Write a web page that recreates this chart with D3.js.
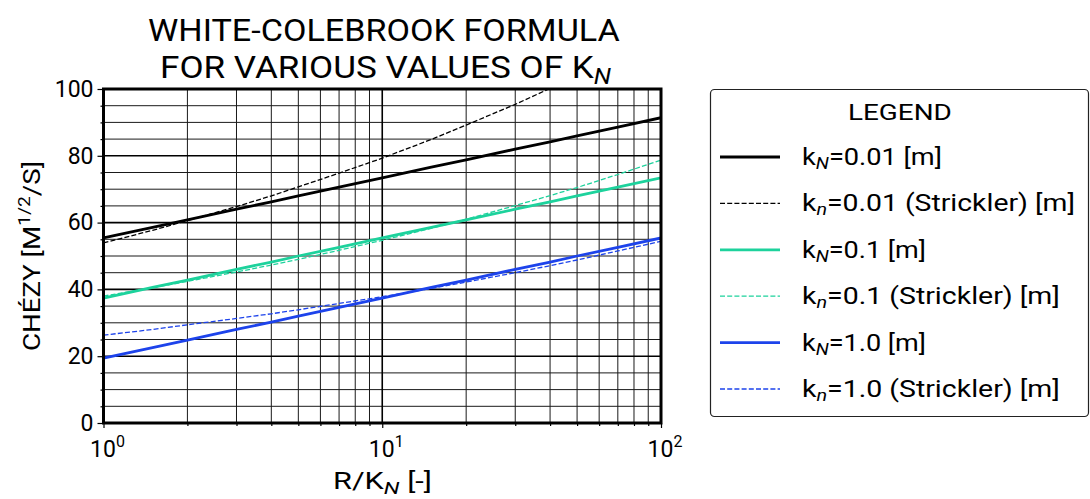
<!DOCTYPE html>
<html>
<head>
<meta charset="utf-8">
<script src="https://cdn.jsdelivr.net/npm/d3@7"></script>
<style>
  body { margin: 0; background: #fff; }
  svg { font-family: Roboto, "DejaVu Sans", sans-serif; }
</style>
</head>
<body>
<div id="chart"></div>
<script>
// R/kN sample points
const ratios = [1, 1.5, 2, 3, 4, 5, 7, 10, 15, 20, 30, 40, 50, 70, 100]

// White-Colebrook (solid) and Strickler (dashed) Chezy values
const wcK001 = [55.4, 58.6, 60.8, 64.0, 66.2, 68.0, 70.6, 73.4, 76.6, 78.8, 82.0, 84.2, 86.0, 88.6, 91.4]
const stK001 = [53.9, 57.7, 60.6, 64.8, 68.0, 70.7, 74.8, 79.3, 84.9, 89.2, 95.4, 100.2, 104.0, 110.0, 117.0]
const wcK01 = [37.4, 40.6, 42.8, 46.0, 48.2, 50.0, 52.6, 55.4, 58.6, 60.8, 64.0, 66.2, 68.0, 70.6, 73.4]
const stK01 = [38.0, 40.5, 42.4, 45.2, 47.3, 49.0, 51.7, 54.7, 58.3, 61.0, 65.1, 68.1, 70.5, 74.4, 78.7]
const wcK1 = [19.4, 22.6, 24.8, 28.0, 30.2, 32.0, 34.6, 37.4, 40.6, 42.8, 46.0, 48.2, 50.0, 52.6, 55.4]
const stK1 = [26.3, 28.0, 29.4, 31.3, 32.7, 33.9, 35.8, 37.8, 40.3, 42.2, 45.0, 47.1, 48.8, 51.5, 54.4]

const yMajor = [0, 20, 40, 60, 80, 100]
const yMinor = [5, 10, 15, 25, 30, 35, 45, 50, 55, 65, 70, 75, 85, 90, 95]
const xMajor = [1, 10, 100]
const xMinor = [2, 3, 4, 5, 6, 7, 8, 9, 20, 30, 40, 50, 60, 70, 80, 90]
const xTickExp = ["0", "1", "2"]

const series = [
  { values: wcK001, color: "#000000", dashed: false, sub: "N", rest: "=0.01 [m]", w: 140 },
  { values: stK001, color: "#000000", dashed: true, sub: "n", rest: "=0.01 (Strickler) [m]", w: 273 },
  { values: wcK01, color: "#1dd29c", dashed: false, sub: "N", rest: "=0.1 [m]", w: 124 },
  { values: stK01, color: "#1dd29c", dashed: true, sub: "n", rest: "=0.1 (Strickler) [m]", w: 258 },
  { values: wcK1, color: "#1d43eb", dashed: false, sub: "N", rest: "=1.0 [m]", w: 124 },
  { values: stK1, color: "#1d43eb", dashed: true, sub: "n", rest: "=1.0 (Strickler) [m]", w: 258 },
]

const width = 1090, height = 499
const plot = { left: 103.5, right: 661, top: 89, bottom: 423 }

const svg = d3.select("#chart").append("svg")
  .attr("width", width)
  .attr("height", height)

const x = d3.scaleLog().domain([1, 100]).range([plot.left, plot.right])
const y = d3.scaleLinear().domain([0, 100]).range([plot.bottom, plot.top])

// stretch a text horizontally so it spans the width seen in the picture
function fitWidth(node, target) {
  const b = node.getBBox()
  const k = target / b.width
  const x0 = b.x
  d3.select(node).attr("transform", `translate(${x0},0) scale(${k},1) translate(${-x0},0)`)
}

// title
const title = svg.append("g").attr("font-size", 31)
const t1 = title.append("text").attr("x", 148).attr("y", 41)
  .text("WHITE-COLEBROOK FORMULA")
fitWidth(t1.node(), 472)
const t2 = title.append("text").attr("x", 160).attr("y", 78)
t2.append("tspan").text("FOR VARIOUS VALUES OF K")
t2.append("tspan").attr("font-size", 22).attr("font-style", "italic").attr("dy", 6).text("N")
fitWidth(t2.node(), 452)

// grid
const grid = svg.append("g")
grid.selectAll(".xmin").data(xMinor).join("line")
  .attr("x1", d => x(d)).attr("x2", d => x(d))
  .attr("y1", plot.top).attr("y2", plot.bottom)
  .attr("stroke", "#1a1a1a").attr("stroke-width", 1)
grid.selectAll(".ymin").data(yMinor).join("line")
  .attr("x1", plot.left).attr("x2", plot.right)
  .attr("y1", d => y(d)).attr("y2", d => y(d))
  .attr("stroke", "#1a1a1a").attr("stroke-width", 1)
grid.selectAll(".xmaj").data(xMajor).join("line")
  .attr("x1", d => x(d)).attr("x2", d => x(d))
  .attr("y1", plot.top).attr("y2", plot.bottom)
  .attr("stroke", "#000").attr("stroke-width", 1.6)
grid.selectAll(".ymaj").data(yMajor).join("line")
  .attr("x1", plot.left).attr("x2", plot.right)
  .attr("y1", d => y(d)).attr("y2", d => y(d))
  .attr("stroke", "#000").attr("stroke-width", 1.6)

// axes ticks
const yAxis = svg.append("g").attr("transform", `translate(${plot.left},0)`)
yAxis.call(d3.axisLeft(y).tickValues(yMajor).tickSize(6).tickPadding(4))
yAxis.append("g").call(d3.axisLeft(y).tickValues(yMinor).tickSize(3).tickFormat(""))
yAxis.selectAll(".domain").remove()
yAxis.selectAll("line").attr("stroke", "#000").attr("stroke-width", 1.2)
yAxis.selectAll("text").attr("font-size", 23).attr("fill", "#000")
  .attr("font-family", "Roboto, sans-serif")

const xAxis = svg.append("g").attr("transform", `translate(0,${plot.bottom})`)
xAxis.call(d3.axisBottom(x).tickValues(xMajor).tickSize(5).tickFormat(""))
xAxis.append("g").call(d3.axisBottom(x).tickValues(xMinor).tickSize(3).tickFormat(""))
xAxis.selectAll(".domain").remove()
xAxis.selectAll("line").attr("stroke", "#000").attr("stroke-width", 1.2)

const xLab = svg.append("g").attr("font-size", 23).attr("text-anchor", "middle")
xMajor.forEach((v, i) => {
  const t = xLab.append("text").attr("x", x(v) + 4).attr("y", 457)
  t.append("tspan").text("10")
  t.append("tspan").attr("font-size", 16).attr("dy", -10).text(xTickExp[i])
})

// axis titles
const xt = svg.append("text").attr("x", 333).attr("y", 489).attr("font-size", 23)
xt.append("tspan").text("R/K")
xt.append("tspan").attr("font-size", 17).attr("font-style", "italic").attr("dy", 5).text("N")
xt.append("tspan").attr("dy", -5).text(" [-]")
fitWidth(xt.node(), 99)

const yt = svg.append("text")
  .attr("transform", "translate(40,256) rotate(-90)")
  .attr("text-anchor", "middle").attr("font-size", 23)
  .attr("textLength", 190).attr("lengthAdjust", "spacingAndGlyphs")
yt.append("tspan").text("CHÉZY [M")
yt.append("tspan").attr("font-size", 16).attr("dy", -10).text("1/2")
yt.append("tspan").attr("dy", 10).text("/S]")

// lines
svg.append("clipPath").attr("id", "clip")
  .append("rect").attr("x", plot.left).attr("y", plot.top)
  .attr("width", plot.right - plot.left).attr("height", plot.bottom - plot.top)

const line = d3.line().x((d, i) => x(ratios[i])).y(d => y(d))
svg.append("g").attr("clip-path", "url(#clip)")
  .selectAll("path").data(series).join("path")
  .attr("d", d => line(d.values))
  .attr("fill", "none")
  .attr("stroke", d => d.color)
  .attr("stroke-width", d => d.dashed ? 1.3 : 2.8)
  .attr("stroke-dasharray", d => d.dashed ? "5,2.2" : null)

// border
svg.append("rect")
  .attr("x", plot.left).attr("y", plot.top)
  .attr("width", plot.right - plot.left).attr("height", plot.bottom - plot.top)
  .attr("fill", "none").attr("stroke", "#000").attr("stroke-width", 3)

// legend
const legend = svg.append("g")
legend.append("rect")
  .attr("x", 710.5).attr("y", 89.5).attr("width", 378).attr("height", 327)
  .attr("rx", 4).attr("fill", "#fff").attr("stroke", "#222").attr("stroke-width", 1.2)
const lg = legend.append("text").attr("x", 848).attr("y", 120).attr("font-size", 22).text("LEGEND")
fitWidth(lg.node(), 104)

const items = legend.selectAll(".item").data(series).join("g")
  .attr("transform", (d, i) => `translate(0,${157 + i * 46.4})`)
items.append("line")
  .attr("x1", 720).attr("x2", 780)
  .attr("stroke", d => d.color)
  .attr("stroke-width", d => d.dashed ? 1.3 : 2.8)
  .attr("stroke-dasharray", d => d.dashed ? "5,2.2" : null)
const lt = items.append("text").attr("x", 802).attr("y", 8).attr("font-size", 23)
lt.append("tspan").text("k")
lt.append("tspan").attr("font-size", 16).attr("font-style", "italic").attr("dy", 4).text(d => d.sub)
lt.append("tspan").attr("dy", -4).text(d => d.rest)
lt.each(function (d) { fitWidth(this, d.w) })
</script>
</body>
</html>
